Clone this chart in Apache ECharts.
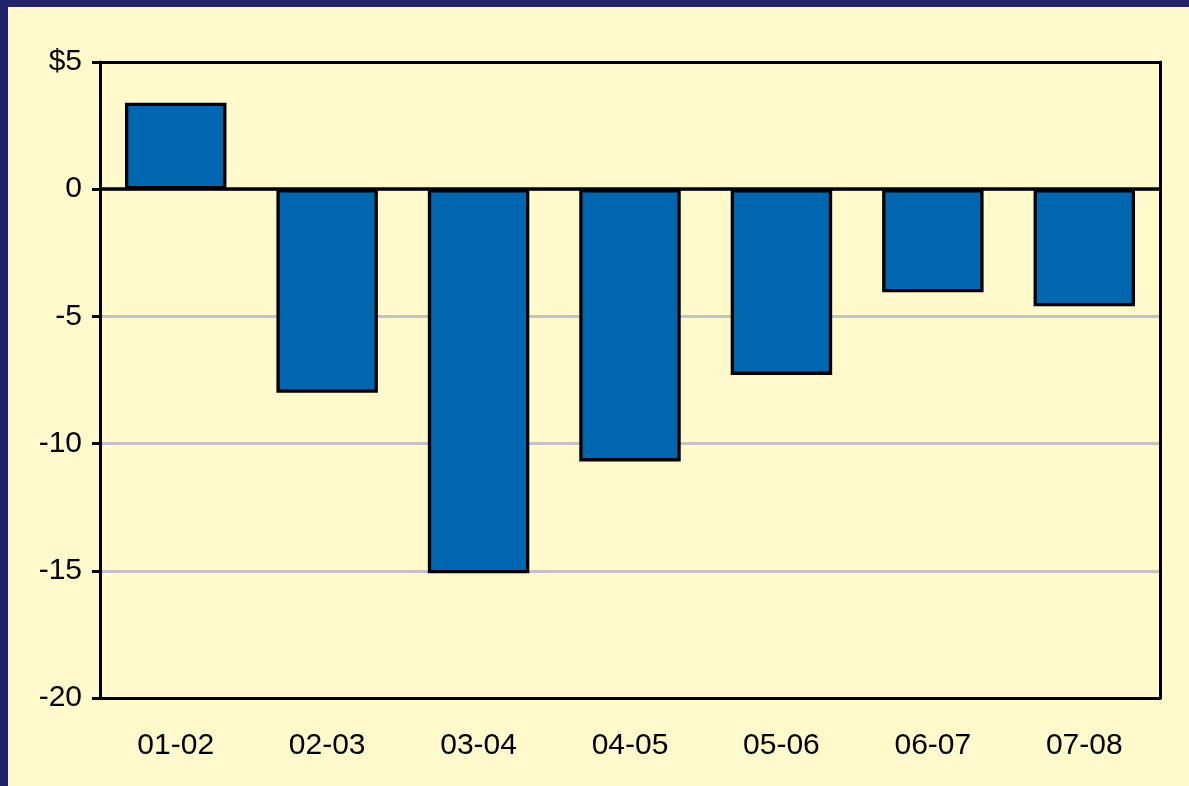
<!DOCTYPE html>
<html>
<head>
<meta charset="utf-8">
<script src="https://cdn.jsdelivr.net/npm/echarts@6/dist/echarts.min.js"></script>
<style>
html,body{margin:0;padding:0;background:#fff9cb;}
#c{width:1189px;height:786px;}
</style>
</head>
<body>
<div id="c"></div>
<script>
const categories = ['01-02','02-03','03-04','04-05','05-06','06-07','07-08'];
const values = [3.4, -8.0, -15.1, -10.7, -7.3, -4.05, -4.6];
const yTickLabels = {5:'$5', 0:'0', '-5':'-5', '-10':'-10', '-15':'-15', '-20':'-20'};

const FONT = 'Liberation Sans, Arial, sans-serif';
const chart = echarts.init(document.getElementById('c'), null, {renderer:'canvas'});
chart.setOption({
  backgroundColor: '#fff9cb',
  animation: false,
  graphic: [
    {type:'rect', shape:{x:0,y:0,width:1189,height:7}, style:{fill:'#23236b'}, z:100},
    {type:'rect', shape:{x:0,y:0,width:8,height:786}, style:{fill:'#23236b'}, z:100}
  ],
  grid: {left:100, top:62, right:29, bottom:88},
  xAxis: [{
    type:'category', data: categories, position:'bottom',
    axisLine:{show:true, onZero:false, lineStyle:{color:'#000', width:3}},
    axisTick:{show:false},
    axisLabel:{color:'#000', fontSize:30, fontFamily:FONT, margin:33}
  },{
    type:'category', data: categories, position:'top',
    axisLine:{show:true, onZero:false, lineStyle:{color:'#000', width:3}},
    axisTick:{show:false}, axisLabel:{show:false}, splitLine:{show:false}
  }],
  yAxis: [{
    type:'value', min:-20, max:5, interval:5, position:'left',
    axisLine:{show:true, onZero:false, lineStyle:{color:'#000', width:3}},
    axisTick:{show:true, length:8, lineStyle:{color:'#000', width:3}},
    axisLabel:{color:'#000', fontSize:30, fontFamily:FONT, margin:18,
      formatter: v => yTickLabels[v] !== undefined ? yTickLabels[v] : String(v)},
    splitLine:{show:true, lineStyle:{color:'#c2c2c2', width:3}}
  },{
    type:'value', min:-20, max:5, interval:5, position:'right',
    axisLine:{show:true, onZero:false, lineStyle:{color:'#000', width:3}},
    axisTick:{show:false}, axisLabel:{show:false}, splitLine:{show:false}
  }],
  series: [{
    type:'bar', data: values, barWidth:'67%', xAxisIndex:0, yAxisIndex:0,
    itemStyle:{color:'#0066b0', borderColor:'#000', borderWidth:3.3},
    markLine:{silent:true, symbol:'none', label:{show:false},
      lineStyle:{color:'#000', width:3.5, type:'solid'},
      data:[{yAxis:0}]}
  }]
});
</script>
</body>
</html>
